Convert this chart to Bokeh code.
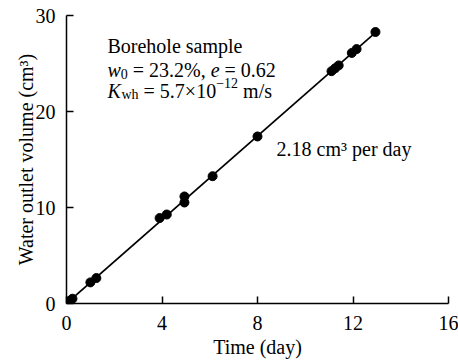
from bokeh.plotting import figure
from bokeh.models import Range1d, Label, FixedTicker
from bokeh.embed import file_html
from bokeh.resources import INLINE

# ---- data ----
time_day = [0.0, 0.12, 0.25, 1.0, 1.25, 3.9, 4.2, 4.94, 4.94, 6.12, 8.0,
            11.1, 11.25, 11.4, 11.95, 12.15, 12.94]
volume_cm3 = [0.0, 0.25, 0.5, 2.2, 2.65, 8.9, 9.27, 10.52, 11.15, 13.26, 17.4,
              24.2, 24.5, 24.8, 26.1, 26.5, 28.28]
rate_per_day = 2.18
fit_x = [0.0, 12.95]
fit_y = [rate_per_day * v for v in fit_x]
x_ticks = [0, 4, 8, 12, 16]
y_ticks = [0, 10, 20, 30]

FONT = "Liberation Serif"

p = figure(width=458, height=360, output_backend="svg", toolbar_location=None,
           x_range=Range1d(0, 16), y_range=Range1d(0, 30),
           min_border_left=66, min_border_right=10, min_border_top=15,
           min_border_bottom=57)
p.outline_line_color = None
p.xgrid.visible = False
p.ygrid.visible = False
p.background_fill_color = "white"
p.border_fill_color = "white"

for ax, ticks in ((p.xaxis[0], x_ticks), (p.yaxis[0], y_ticks)):
    ax.ticker = FixedTicker(ticks=ticks)
    ax.major_tick_in = 7
    ax.major_tick_out = 0
    ax.minor_tick_in = 0
    ax.minor_tick_out = 0
    ax.axis_line_width = 1.5
    ax.axis_line_color = "black"
    ax.major_tick_line_width = 1.5
    ax.major_tick_line_color = "black"
    ax.major_label_text_font = FONT
    ax.major_label_text_font_size = "20px"
    ax.major_label_text_color = "black"
    ax.axis_label_text_font = FONT
    ax.axis_label_text_font_size = "20px"
    ax.axis_label_text_font_style = "normal"
    ax.axis_label_text_color = "black"

p.xaxis.axis_label = "Time (day)"
p.xaxis.major_label_standoff = 12
p.xaxis.axis_label_standoff = 3
p.yaxis.axis_label = "Water outlet volume (cm\u00b3)"
p.yaxis.major_label_standoff = 11
p.yaxis.axis_label_standoff = -4

p.line(fit_x, fit_y, line_color="black", line_width=1.7)
p.scatter(time_day, volume_cm3, size=9, fill_color="black", line_color="black")


def put(x, y, text, dx=0.0, dy=0.0, size=20, style="normal"):
    p.add_layout(Label(x=x, y=y, x_offset=dx, y_offset=dy, text=text,
                       text_font=FONT, text_font_size=f"{size}px",
                       text_font_style=style, text_color="black",
                       text_baseline="alphabetic", text_align="left"))


ax0 = 1.717
put(ax0, 26.85, "Borehole sample")
# line 2: w0 = 23.2%, e = 0.62
y2 = 24.35
put(ax0, y2, "w", 0, style="italic")
put(ax0, y2, "0", 13.3, -4, size=14)
put(ax0, y2, "= 23.2%,", 25.3)
put(ax0, y2, "e", 103.2, style="italic")
put(ax0, y2, "= 0.62", 117.1)
# line 3: K_wh = 5.7x10^-12 m/s
y3 = 22.17
put(ax0, y3, "K", 0, style="italic")
put(ax0, y3, "wh", 14, -4, size=14)
put(ax0, y3, "= 5.7\u00d710", 36.1)
put(ax0, y3, "\u221212", 108.7, 8, size=14)
put(ax0, y3, "m/s", 135.6)

put(8.80, 16.13, "2.18 cm\u00b3 per day")

open("out.html", "w").write(file_html(p, INLINE))
